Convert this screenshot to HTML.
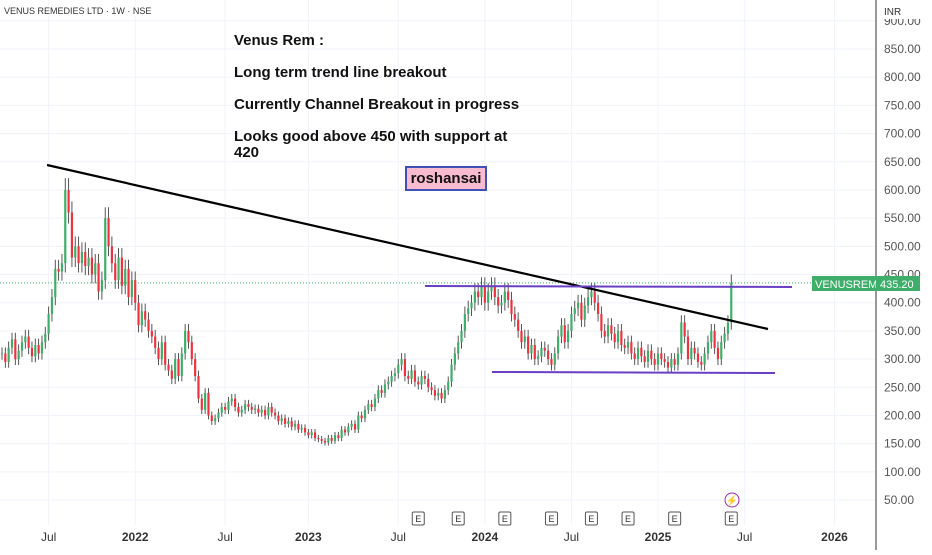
<!DOCTYPE html>
<html><head><meta charset="utf-8"><style>
body{margin:0;background:#fff;font-family:"Liberation Sans",sans-serif}
svg text{font-family:"Liberation Sans",sans-serif}
</style></head><body>
<svg id="c" width="932" height="550" xmlns="http://www.w3.org/2000/svg">
<rect width="932" height="550" fill="#fff"/>
<g id="grid"></g><g id="candles"></g><g id="overlay"></g><g id="axes"></g>
</svg>
<script>
const closes=[310,295,320,335,300,315,330,340,320,305,325,310,330,345,
380,410,460,455,470,600,560,480,500,470,490,465,480,450,470,420,440,550,500,470,
440,480,430,460,410,440,400,360,385,370,350,340,320,300,330,290,280,265,300,270,310,
350,330,300,270,230,210,240,200,190,
195,205,215,210,225,230,215,205,210,220,215,210,212,205,210,200,215,205,200,190,195,185,190,180,185,175,178,
170,165,170,160,158,155,152,160,155,165,
160,175,170,180,185,175,200,195,210,220,215,230,
245,240,255,260,270,275,290,300,
270,265,280,260,255,270,265,250,245,235,240,230,245,260,
290,310,330,350,380,390,400,420,410,430,
400,420,430,410,395,400,420,405,380,370,
350,330,340,310,325,300,305,320,315,
300,290,310,340,360,330,350,380,
390,400,370,395,410,420,400,380,
350,340,360,345,330,350,325,
320,330,310,300,320,305,295,315,300,290,310,300,295,285,300,290,310,
365,340,300,320,310,295,290,310,330,350,320,300,330,345,365,435];
const priceTicks=[50,100,150,200,250,300,350,400,450,500,550,600,650,700,750,800,850,900];
const timeLabels=["Jul","2022","Jul","2023","Jul","2024","Jul","2025","Jul","2026"];
const timeLabelWeeks=[14,40,67,92,119,145,171,197,223,250];
const earningsWeeks=[125,137,151,165,177,188,202,219];
const lastPrice=435.20;

const NS="http://www.w3.org/2000/svg";
const yP=p=>49+(850-p)*0.5638;
const xW=i=>2+i*3.33;
function el(tag,attrs,parent,txt){const e=document.createElementNS(NS,tag);for(const k in attrs)e.setAttribute(k,attrs[k]);if(txt!==undefined)e.textContent=txt;parent.appendChild(e);return e;}
const grid=document.getElementById('grid'),cg=document.getElementById('candles'),ov=document.getElementById('overlay'),ax=document.getElementById('axes');

priceTicks.forEach(p=>{
  const l=el('line',{x1:0,x2:876,y1:yP(p),y2:yP(p),stroke:'#f0f3fa'},grid);
  
  
  const t=el('text',{x:884,y:yP(p)+4,'font-size':12,fill:'#555'},ax,p.toFixed(2));
  
  
});
timeLabels.forEach((s,k)=>{
  const x=xW(timeLabelWeeks[k]);
  const l=el('line',{x1:x,x2:x,y1:0,y2:525,stroke:'#f0f3fa'},grid);
  
  
  const t=el('text',{x:x,y:541,'font-size':12,fill:'#333','text-anchor':'middle','font-weight':/\d/.test(s)?'bold':'normal'},ax,s);
  
  
});

closes.forEach((c,i)=>{
  const o=i?closes[i-1]:c;
  const hi=Math.max(o,c)*1.035,lo=Math.min(o,c)*0.965;
  const col=c>=o?'#3fae6a':'#ee3340';
  const x=xW(i);
  const w=el('line',{x1:x,x2:x,y1:yP(hi),y2:yP(lo),stroke:'#444','stroke-width':0.9},cg);
  
  
  const b=el('rect',{x:x-1.1,y:yP(Math.max(o,c)),width:2.2,height:Math.max(1,Math.abs(yP(o)-yP(c))),fill:col},cg);
  
  
});

const dot=el('line',{x1:0,x2:876,y1:yP(lastPrice),y2:yP(lastPrice),stroke:'#3fae6a','stroke-dasharray':'1 2'},ov);


const tl=el('line',{x1:47,y1:165,x2:768,y2:329,stroke:'#000','stroke-width':2.2},ov);


const rt=el('line',{x1:425,y1:286,x2:792,y2:287,stroke:'#6a3fc4','stroke-width':2},ov);


const rb=el('line',{x1:492,y1:372,x2:775,y2:373,stroke:'#6a3fc4','stroke-width':2},ov);



earningsWeeks.forEach(i=>{
  const g=el('g',{},ov);
  
  
  const x=xW(i);
  el('rect',{x:x-6,y:512,width:12,height:13,fill:'#fff',stroke:'#555',rx:1.5},g);
  el('text',{x:x,y:522,'font-size':9,'text-anchor':'middle',fill:'#333'},g,'E');
});
const lg=el('g',{},ov);


el('circle',{cx:732,cy:500,r:7,fill:'#fff',stroke:'#9c27b0'},lg);
el('text',{x:732,y:504,'font-size':10,'text-anchor':'middle',fill:'#9c27b0'},lg,'⚡');

const axl=el('line',{x1:876,x2:876,y1:0,y2:550,stroke:'#333'},ax);


const tg=el('g',{},ax);


el('rect',{x:812,y:276,width:64,height:15,fill:'#3fae6a'},tg);
el('text',{x:815,y:288,'font-size':11,fill:'#fff'},tg,'VENUSREM');
el('rect',{x:876,y:276,width:44,height:15,fill:'#3fae6a'},tg);
el('text',{x:880,y:288,'font-size':11,fill:'#fff'},tg,lastPrice.toFixed(2));
const ig=el('g',{},ax);


el('rect',{x:878,y:2,width:52,height:17,fill:'#fff'},ig);
el('text',{x:884,y:15,'font-size':10,fill:'#333'},ig,'INR');
</script>
<div style="position:absolute;left:4px;top:6px;font-size:9px;color:#333;background:#fff">VENUS REMEDIES LTD · 1W · NSE</div>
<div style="position:absolute;left:234px;top:33px;font-size:15px;font-weight:bold;color:#111;line-height:16px">
<div style="margin-bottom:16px">Venus Rem :</div>
<div style="margin-bottom:16px">Long term trend line breakout</div>
<div style="margin-bottom:16px">Currently Channel Breakout in progress</div>
<div>Looks good above 450 with support at<br>420</div>
</div>
<div style="position:absolute;left:405px;top:166px;width:78px;height:21px;background:#f8bbd0;border:2px solid #3f51b5;font-size:15px;font-weight:bold;color:#111;text-align:center;line-height:21px">roshansai</div>
</body></html>
